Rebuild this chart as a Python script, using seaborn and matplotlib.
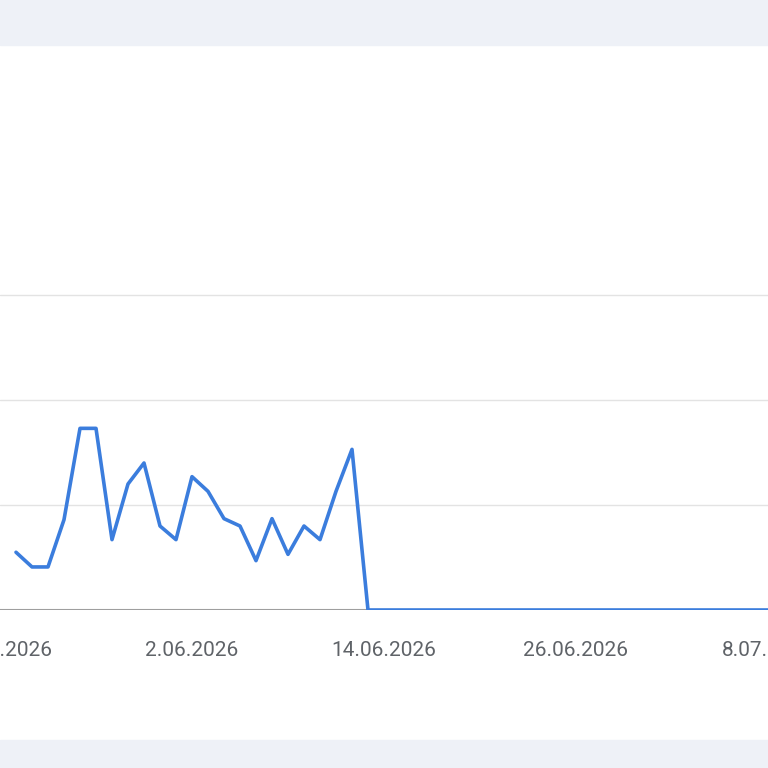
import matplotlib
matplotlib.use("Agg")
import matplotlib.pyplot as plt
import seaborn as sns
import pandas as pd

# day offsets relative to 2.06.2026
values = [55, 41, 41, 86, 173, 173, 67, 120, 140, 80, 67, 127, 113, 87, 80, 47,
          87, 53, 80, 67, 113, 153, 0]
values = values + [0] * 28
days = list(range(-11, -11 + len(values)))
tick_days = [-12, 0, 12, 24, 36]
tick_labels = ["21.05.2026", "2.06.2026", "14.06.2026", "26.06.2026", "8.07.2026"]
df = pd.DataFrame({"day": days, "value": values})

sns.set_theme(style="white")
plt.rcParams["font.family"] = ["Roboto", "DejaVu Sans"]
fig = plt.figure(figsize=(7.68, 7.68), dpi=100)
band = "#eef1f7"
fig.patches.append(plt.Rectangle((0, 1 - 45/768), 1, 45/768, transform=fig.transFigure, color=band, zorder=0))
fig.patches.append(plt.Rectangle((0, 0), 1, 28/768, transform=fig.transFigure, color=band, zorder=0))
ax = fig.add_axes([0, (768-610)/768, 1, 565/768])
ax.set_facecolor("none")
sns.lineplot(data=df, x="day", y="value", ax=ax, color="#3b7ddd", linewidth=2.6)
ppd = 205/12
ax.set_xlim(-193/ppd, (768-193)/ppd)
ax.set_ylim(0, 565/105*100)
for y in [100, 200, 300]:
    ax.axhline(y, color="#e3e3e3", lw=1, zorder=0)
ax.axhline(0, color="#9e9e9e", lw=1.5, zorder=1)
ax.set_yticks([])
ax.set_xticks(tick_days)
ax.set_xticklabels(tick_labels, color="#5f6368", fontsize=15)
ax.tick_params(axis="x", length=0, pad=22)
ax.set_xlabel(""); ax.set_ylabel("")
for s in ax.spines.values():
    s.set_visible(False)
fig.savefig("out.png", dpi=100)
